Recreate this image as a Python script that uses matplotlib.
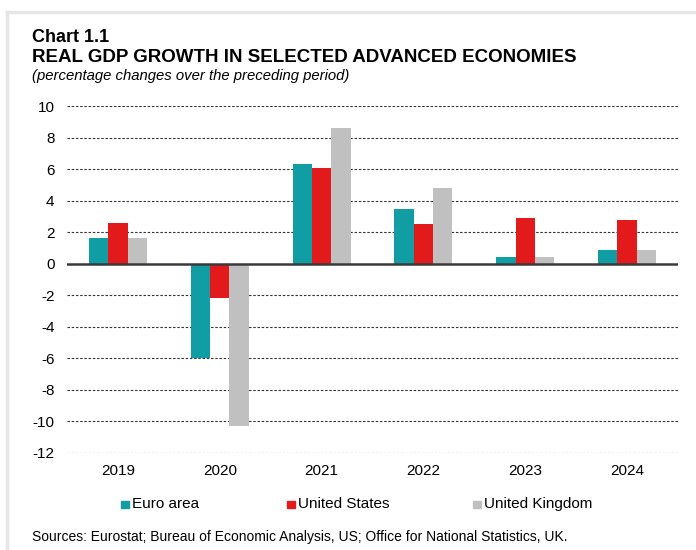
import matplotlib
matplotlib.use("Agg")
import matplotlib.pyplot as plt
import numpy as np
from matplotlib.patches import Rectangle
from matplotlib.lines import Line2D

plt.rcParams['font.family'] = ['Liberation Sans', 'DejaVu Sans']

years = ["2019", "2020", "2021", "2022", "2023", "2024"]
euro_area = [1.6, -6.0, 6.3, 3.5, 0.4, 0.9]
united_states = [2.6, -2.2, 6.1, 2.5, 2.9, 2.8]
united_kingdom = [1.6, -10.3, 8.6, 4.8, 0.4, 0.9]
series_names = ["Euro area", "United States", "United Kingdom"]
series_colors = ["#109DA4", "#E21A1C", "#C0C0C0"]
y_ticks = [10, 8, 6, 4, 2, 0, -2, -4, -6, -8, -10, -12]

W, H = 696, 550
fig = plt.figure(figsize=(W / 100, H / 100), dpi=100)

# light frame around the panel (top and left edges)
fig.add_artist(Line2D([7 / W, 7 / W], [0, 1 - 12 / H], transform=fig.transFigure,
                      color="#E6E6E6", lw=2.5))
fig.add_artist(Line2D([7 / W, 1], [1 - 12 / H, 1 - 12 / H], transform=fig.transFigure,
                      color="#E6E6E6", lw=2.5))

fig.text(32 / W, 1 - 38 / H, "Chart 1.1", fontsize=13, fontweight="bold",
         va="center", ha="left")
fig.text(32 / W, 1 - 57 / H, "REAL GDP GROWTH IN SELECTED ADVANCED ECONOMIES",
         fontsize=13.5, fontweight="bold", va="center", ha="left")
fig.text(32 / W, 1 - 76 / H, "(percentage changes over the preceding period)",
         fontsize=10.7, fontstyle="italic", va="center", ha="left")

ax = fig.add_axes([67 / W, 1 - 453 / H, (678 - 67) / W, (453 - 106) / H])
x = np.arange(len(years))
bw = 0.19
for i, (vals, name, col) in enumerate(zip([euro_area, united_states, united_kingdom],
                                          series_names, series_colors)):
    ax.bar(x + (i - 1) * bw, vals, width=bw, color=col, label=name, zorder=3,
           edgecolor="none")

ax.set_xlim(-0.5, len(years) - 0.5)
ax.set_ylim(-12, 10)
ax.set_yticks(y_ticks)
ax.set_yticklabels([str(t) for t in y_ticks])
ax.set_xticks(x)
ax.set_xticklabels(years)
for t in y_ticks:
    if t != 0:
        ax.axhline(t, color="#333333", lw=0.8, ls=(0, (2.2, 1.6)), zorder=1)
ax.axhline(0, color="#3A3A3A", lw=1.8, zorder=4)

for s in ax.spines.values():
    s.set_visible(False)
ax.tick_params(axis="both", length=0, labelsize=11, colors="black")
ax.tick_params(axis="y", pad=9)
ax.tick_params(axis="x", pad=8)

# legend entries: small square swatch followed by the series name
legend_marker_x = [121, 287, 473]
legend_y = 504
for mx, name, col in zip(legend_marker_x, series_names, series_colors):
    fig.add_artist(Rectangle((mx / W, 1 - (legend_y + 4) / H), 7.5 / W, 7.5 / H,
                             transform=fig.transFigure, color=col))
    fig.text((mx + 11) / W, 1 - legend_y / H, name, fontsize=11,
             va="center", ha="left")

fig.text(32 / W, 1 - 537 / H,
         "Sources: Eurostat; Bureau of Economic Analysis, US; Office for National Statistics, UK.",
         fontsize=10, va="center", ha="left")

fig.savefig("out.png", dpi=100)
